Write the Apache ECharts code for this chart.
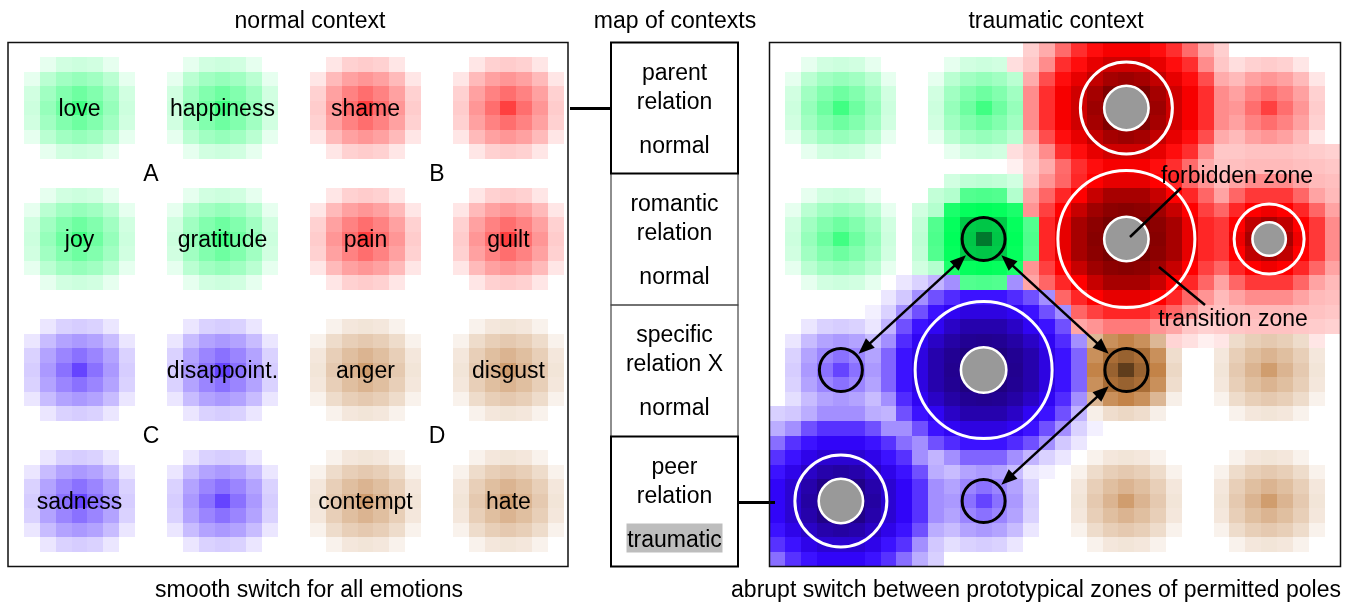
<!DOCTYPE html>
<html>
<head>
<meta charset="utf-8">
<title>normal vs traumatic context</title>
<script src="https://cdn.jsdelivr.net/npm/echarts@6/dist/echarts.min.js"></script>
<style>
  html, body { margin: 0; padding: 0; background: #fff; }
  #chart { width: 1352px; height: 604px; }
</style>
</head>
<body>
<div id="chart"></div>
<script>
// 4 x 4 emotion poles, row by row, same order in both panels
const poleHues = ['green', 'green', 'red', 'red',
                  'green', 'green', 'red', 'red',
                  'blue', 'blue', 'brown', 'brown',
                  'blue', 'blue', 'brown', 'brown'];
const leftLabels = ['love', 'happiness', 'shame', '',
                    'joy', 'gratitude', 'pain', 'guilt',
                    '', 'disappoint.', 'anger', 'disgust',
                    'sadness', '', 'contempt', 'hate'];
const quadrantLabels = ['A', 'B', 'C', 'D'];
// centre cell of the poles along x and along y (panels are 36 x 36 cells)
const poleCells = [4, 13, 22, 31];
// shape of every pole in the traumatic context
const rightKinds = ['normal', 'normal', 'big', 'normal',
                    'normal', 'boosted', 'hugeRed', 'medium',
                    'normal', 'hugeBlue', 'boostedTight', 'normal',
                    'big', 'normal', 'normal', 'normal'];
const permittedPoles = [8, 5, 10, 13];      // black circles
const forbiddenPoles = [2, 6, 7, 9, 12];    // grey core + white ring
const switchLinks = [[8, 5], [5, 10], [10, 13]];

// radial intensity: [distance in cells, level 0..2]
const normalProfile = [[0, .75], [1, .57], [1.41, .49], [2, .41], [2.24, .37], [2.83, .27], [3, .2], [3.16, .18], [3.61, .1], [4, 0]];
const boostedProfile = [[0, 1.9], [1, 1.38], [1.41, 1.35], [2, 1.0], [2.24, .98], [2.83, .9], [3, .7], [3.16, .68], [3.61, .3], [4, .26], [4.24, .24], [4.47, .18], [5, 0]];
const boostedTightProfile = [[0, 1.85], [1, 1.35], [1.41, 1.2], [2, .95], [2.24, .85], [2.83, .55], [3, .3], [3.16, .26], [3.61, .12], [4, 0]];
const bigProfile = [[0, 1.9], [1, 1.85], [1.41, 1.8], [2, 1.62], [2.24, 1.56], [2.83, 1.38], [3, 1.3], [3.61, 1.15], [4, 1.05], [4.47, .95], [5, .82], [5.39, .7], [5.66, .58], [6, .45], [6.4, .33], [7, .22], [7.21, .19], [7.62, .13], [8, 0]];
const hugeRedProfile = [[0, 1.92], [1, 1.88], [1.41, 1.85], [2, 1.75], [2.24, 1.72], [2.83, 1.6], [3, 1.55], [3.61, 1.35], [4, 1.15], [4.47, 1.0], [5, .85], [5.39, .75], [5.83, .6], [6, .52], [6.32, .42], [6.7, .35], [7.07, .27], [7.28, .22], [7.62, .17], [8.06, .12], [8.5, .06], [9, 0]];
const hugeBlueProfile = [[0, 1.92], [1, 1.88], [1.41, 1.85], [2, 1.75], [2.24, 1.72], [2.83, 1.6], [3, 1.55], [3.61, 1.38], [4, 1.2], [4.47, 1.08], [5, .95], [5.39, .85], [5.83, .7], [6, .62], [6.32, .45], [6.7, .3], [7.07, .22], [7.28, .18], [7.62, .1], [8.06, .06], [8.5, 0]];
const mediumProfile = [[0, 1.88], [1, 1.55], [1.41, 1.4], [2, 1.1], [2.24, 1.0], [2.83, .85], [3, .78], [3.61, .6], [4, .45], [4.47, .36], [5, .27], [5.66, .25], [6, .24], [6.4, .22], [7, .2], [7.21, .18], [7.62, .1], [8, 0]];

const contextNames = [['parent', 'relation'], ['romantic', 'relation'], ['specific', 'relation X'], ['peer', 'relation']];
const contextStates = ['normal', 'normal', 'normal', 'traumatic'];

const profiles = {
  normal: normalProfile, boosted: boostedProfile, boostedTight: boostedTightProfile,
  big: bigProfile, hugeRed: hugeRedProfile, hugeBlue: hugeBlueProfile, medium: mediumProfile
};

const FONT = '"Liberation Sans", Arial, sans-serif';
const TEXT_DY = 1.5;
const hueNames = ['green', 'red', 'blue', 'brown'];
const huePure = [[0, 255, 90], [255, 0, 0], [50, 5, 255], [192, 124, 62]];
const hueDark = [[0, 105, 40], [95, 0, 0], [28, 0, 105], [78, 50, 22]];

function level(profile, d) {
  let best = profile[0];
  for (const p of profile) {
    if (Math.abs(p[0] - d) < Math.abs(best[0] - d)) best = p;
  }
  return best[1];
}

function cellColor(h, v) {
  let from = [255, 255, 255], to = huePure[h], t = v;
  if (v > 1) { from = huePure[h]; to = hueDark[h]; t = v - 1; }
  return 'rgb(' + from.map((c, i) => Math.round(c + (to[i] - c) * t)).join(',') + ')';
}

// each cell takes the hue of the strongest pole
function buildCells(kinds) {
  const cells = [];
  for (let y = 0; y < 36; y++) {
    for (let x = 0; x < 36; x++) {
      let best = 0, hue = -1;
      for (let i = 0; i < 16; i++) {
        const d = Math.hypot(x - poleCells[i % 4], y - poleCells[Math.floor(i / 4)]);
        const v = level(profiles[kinds[i]], d);
        if (v > best) { best = v; hue = hueNames.indexOf(poleHues[i]); }
      }
      if (best > 0) cells.push([x, y, best, hue]);
    }
  }
  return cells;
}

const leftCells = buildCells(poleHues.map(() => 'normal'));
const rightCells = buildCells(rightKinds);
const poleCentre = i => [poleCells[i % 4] + 0.5, poleCells[Math.floor(i / 4)] + 0.5];

function renderCell(params, api) {
  const p0 = api.coord([api.value(0), api.value(1)]);
  const p1 = api.coord([api.value(0) + 1, api.value(1) + 1]);
  const x0 = Math.round(Math.min(p0[0], p1[0])), x1 = Math.round(Math.max(p0[0], p1[0]));
  const y0 = Math.round(Math.min(p0[1], p1[1])), y1 = Math.round(Math.max(p0[1], p1[1]));
  return {
    type: 'rect',
    shape: { x: x0, y: y0, width: x1 - x0, height: y1 - y0 },
    style: { fill: cellColor(api.value(3), api.value(2)) }
  };
}

function renderText(list) {
  return function (params, api) {
    const p = api.coord([api.value(0), api.value(1)]);
    return {
      type: 'text', x: p[0], y: p[1] + TEXT_DY,
      style: { text: list[api.value(2)], fill: '#000', font: '23px ' + FONT, align: 'center', verticalAlign: 'middle' }
    };
  };
}

const ringSize = { big: [46, 23.5], hugeRed: [68.5, 23.5], hugeBlue: [68.5, 24], medium: [35, 18] };

function renderMarks(params, api) {
  const p = api.coord([api.value(0), api.value(1)]);
  const kind = api.value(2);
  if (kind === 0) {
    return { type: 'circle', shape: { cx: p[0], cy: p[1], r: 21.5 }, style: { fill: null, stroke: '#000', lineWidth: 3 } };
  }
  const rs = ringSize[rightKinds[api.value(3)]];
  return {
    type: 'group',
    children: [
      { type: 'circle', shape: { cx: p[0], cy: p[1], r: rs[0] }, style: { fill: null, stroke: '#fff', lineWidth: 3 } },
      { type: 'circle', shape: { cx: p[0], cy: p[1], r: rs[1] - 1.3 }, style: { fill: '#999', stroke: '#fff', lineWidth: 2.6 } }
    ]
  };
}

function renderArrow(params, api) {
  const a = api.coord([api.value(0), api.value(1)]);
  const b = api.coord([api.value(2), api.value(3)]);
  const len = Math.hypot(b[0] - a[0], b[1] - a[1]);
  const ux = (b[0] - a[0]) / len, uy = (b[1] - a[1]) / len;
  const r = 24, L = 16, W = 6.5;
  const s = [a[0] + ux * r, a[1] + uy * r], e = [b[0] - ux * r, b[1] - uy * r];
  const head = (tip, dx, dy) => {
    const bx = tip[0] - dx * L, by = tip[1] - dy * L;
    return [tip, [bx - dy * W, by + dx * W], [bx + dy * W, by - dx * W]];
  };
  return {
    type: 'group',
    children: [
      { type: 'line', shape: { x1: s[0] + ux * 8, y1: s[1] + uy * 8, x2: e[0] - ux * 8, y2: e[1] - uy * 8 }, style: { stroke: '#000', lineWidth: 2.5 } },
      { type: 'polygon', shape: { points: head(e, ux, uy) }, style: { fill: '#000' } },
      { type: 'polygon', shape: { points: head(s, -ux, -uy) }, style: { fill: '#000' } }
    ]
  };
}

const LEFT = { left: 8, top: 42.5, width: 560, height: 524 };
const RIGHT = { left: 769.5, top: 42.5, width: 571, height: 524 };
const BOX_X = 611, BOX_W = 127;
const boxTops = [42.5, 173.5, 305, 436.5, 566.5];

const graphics = [];
function label(text, x, y) {
  graphics.push({ type: 'text', x: x, y: y + TEXT_DY, z: 20, style: { text: text, fill: '#000', font: '23px ' + FONT, align: 'center', verticalAlign: 'middle' } });
}
label('normal context', 310, 20);
label('map of contexts', 675, 20);
label('traumatic context', 1056, 20);
label('smooth switch for all emotions', 309, 589);
label('abrupt switch between prototypical zones of permitted poles', 1036, 589);

// map of contexts
[1, 2, 0, 3].forEach(i => {
  const strong = contextStates[i] === 'traumatic' || i === 0;
  graphics.push({
    type: 'rect', z: strong ? 12 : 11,
    shape: { x: BOX_X, y: boxTops[i], width: BOX_W, height: boxTops[i + 1] - boxTops[i] },
    style: { fill: null, stroke: strong ? '#000' : '#444', lineWidth: strong ? 2 : 1.2 }
  });
});
contextNames.forEach((n, i) => {
  const cx = BOX_X + BOX_W / 2, top = boxTops[i];
  label(n[0], cx, top + 29.5);
  label(n[1], cx, top + 58.5);
  if (contextStates[i] === 'traumatic') {
    graphics.push({ type: 'rect', z: 15, shape: { x: cx - 48, y: top + 87, width: 96, height: 29 }, style: { fill: '#bdbdbd' } });
  }
  label(contextStates[i], cx, top + 102.5);
});
// connectors
graphics.push({ type: 'line', z: 20, shape: { x1: 570, y1: 108.5, x2: 612, y2: 108.5 }, style: { stroke: '#000', lineWidth: 3 } });
graphics.push({ type: 'line', z: 20, shape: { x1: 737, y1: 502.5, x2: 775, y2: 502.5 }, style: { stroke: '#000', lineWidth: 3 } });
// panel frames
[LEFT, RIGHT].forEach(g => {
  graphics.push({ type: 'rect', z: 20, shape: { x: g.left, y: g.top, width: g.width, height: g.height }, style: { fill: null, stroke: '#111', lineWidth: 1.5 } });
});
// callouts
graphics.push({ type: 'line', z: 20, shape: { x1: 1130, y1: 237, x2: 1181, y2: 188 }, style: { stroke: '#000', lineWidth: 2.5 } });
label('forbidden zone', 1237, 175);
graphics.push({ type: 'line', z: 20, shape: { x1: 1159, y1: 267, x2: 1205, y2: 305 }, style: { stroke: '#000', lineWidth: 2.5 } });
label('transition zone', 1233, 318);

const leftTextData = leftLabels.map((t, i) => [...poleCentre(i), i]).filter(d => leftLabels[d[2]]);
const quadData = quadrantLabels.map((q, i) => [
  (poleCells[(i % 2) * 2] + poleCells[(i % 2) * 2 + 1]) / 2 + 0.5,
  (poleCells[Math.floor(i / 2) * 2] + poleCells[Math.floor(i / 2) * 2 + 1]) / 2 + 0.5, i]);
const markData = forbiddenPoles.map(i => [...poleCentre(i), 1, i])
  .concat(permittedPoles.map(i => [...poleCentre(i), 0, i]));
const arrowData = switchLinks.map(l => [...poleCentre(l[0]), ...poleCentre(l[1])]);

const chart = echarts.init(document.getElementById('chart'));
const option = {
  backgroundColor: '#fff',
  animation: false,
  grid: [
    Object.assign({ show: false }, LEFT),
    Object.assign({ show: false }, RIGHT)
  ],
  xAxis: [
    { gridIndex: 0, type: 'value', min: 0, max: 35.25, show: false },
    { gridIndex: 1, type: 'value', min: 0, max: 36, show: false }
  ],
  yAxis: [
    { gridIndex: 0, type: 'value', min: 0, max: 36, inverse: true, show: false },
    { gridIndex: 1, type: 'value', min: 0, max: 36, inverse: true, show: false }
  ],
  series: [
    { type: 'custom', name: 'normal', xAxisIndex: 0, yAxisIndex: 0, silent: true, z: 1, renderItem: renderCell, data: leftCells },
    { type: 'custom', name: 'traumatic', xAxisIndex: 1, yAxisIndex: 1, silent: true, z: 1, renderItem: renderCell, data: rightCells },
    { type: 'custom', name: 'emotions', xAxisIndex: 0, yAxisIndex: 0, silent: true, z: 5, renderItem: renderText(leftLabels), data: leftTextData },
    { type: 'custom', name: 'quadrants', xAxisIndex: 0, yAxisIndex: 0, silent: true, z: 5, renderItem: renderText(quadrantLabels), data: quadData },
    { type: 'custom', name: 'zones', xAxisIndex: 1, yAxisIndex: 1, silent: true, z: 3, renderItem: renderMarks, data: markData },
    { type: 'custom', name: 'switches', xAxisIndex: 1, yAxisIndex: 1, silent: true, z: 4, renderItem: renderArrow,
      encode: { x: [0, 2], y: [1, 3] }, data: arrowData }
  ],
  graphic: graphics
};
chart.setOption(option);
window.onresize = function () {
  chart.resize();
};
</script>
</body>
</html>
